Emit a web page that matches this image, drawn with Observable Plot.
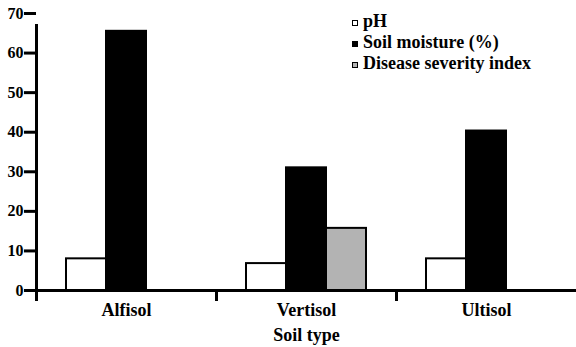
<!DOCTYPE html>
<html>
<head>
<meta charset="utf-8">
<script src="https://cdn.jsdelivr.net/npm/d3@7"></script>
<script src="https://cdn.jsdelivr.net/npm/@observablehq/plot@0.6"></script>
<style>
  body { margin: 0; background: #fff; }
  #wrap { position: relative; width: 576px; height: 347px; font-family: "Liberation Serif", "DejaVu Serif", serif; }
  #legend { position: absolute; left: 352px; top: 11px; font-size: 18px; font-weight: bold; line-height: 21px; color: #000; }
  .row { display: flex; align-items: center; white-space: nowrap; }
  .sw { width: 6px; height: 6px; box-sizing: border-box; border: 1.5px solid #000; margin-right: 5px; margin-top: 2px; }
  svg text { font-family: "Liberation Serif", "DejaVu Serif", serif !important; }
</style>
</head>
<body>
<div id="wrap"><div id="legend"></div></div>
<script>
const soils = ["Alfisol", "Vertisol", "Ultisol"];
const series = ["pH", "Soil moisture (%)", "Disease severity index"];
const pH = [8, 6.8, 8];
const moisture = [65.5, 31, 40.3];
const disease = [null, 15.7, null];
const yTicks = [0, 10, 20, 30, 40, 50, 60, 70];
const fills = ["#ffffff", "#000000", "#b3b3b3"];

const values = [pH, moisture, disease];
const data = soils.flatMap((s, i) => series.map((k, j) => ({soil: s, series: k, value: values[j][i]})))
  .filter(d => d.value != null);

const W = 576, H = 347, mL = 36, mR = 0;
const step = (W - mL - mR) / soils.length;

const chart = Plot.plot({
  width: W, height: H,
  marginLeft: mL, marginRight: mR, marginTop: 13, marginBottom: 57,
  style: {fontFamily: "'Liberation Serif', 'DejaVu Serif', serif", background: "#fff", color: "#000"},
  fx: {domain: soils, padding: 0},
  x: {domain: series, paddingInner: 0, paddingOuter: 0.75, axis: null},
  y: {domain: [yTicks[0], yTicks[yTicks.length - 1]], axis: null},
  color: {domain: series, range: fills},
  marks: [
    Plot.barY(data, {fx: "soil", x: "series", y: "value", fill: "series", stroke: "#000", strokeWidth: 2}),
    Plot.ruleY([0], {strokeWidth: 3}),
    Plot.ruleX(soils.slice(0, 1), {fx: d => d, x: null, y1: yTicks[0], y2: yTicks[yTicks.length - 1], insetBottom: -11, dx: -step / 2, strokeWidth: 3}),
    Plot.ruleX(soils, {fx: d => d, x: null, y1: 0, y2: 0, insetBottom: -11, dx: -step / 2, strokeWidth: 3}),
    Plot.axisY({ticks: yTicks, tickSize: 12, tickPadding: 1, fontSize: 16, fontWeight: "bold", strokeWidth: 3, label: null}),
    Plot.axisFx({anchor: "bottom", tickSize: 0, tickPadding: 13, fontSize: 18, fontWeight: "bold",
      label: "Soil type", labelAnchor: "center", labelOffset: 50})
  ]
});
document.getElementById("wrap").appendChild(chart);

const legend = document.getElementById("legend");
series.forEach((s, j) => {
  const row = document.createElement("div");
  row.className = "row";
  const sw = document.createElement("span");
  sw.className = "sw";
  sw.style.background = fills[j];
  row.appendChild(sw);
  row.appendChild(document.createTextNode(s));
  legend.appendChild(row);
});
</script>
</body>
</html>
